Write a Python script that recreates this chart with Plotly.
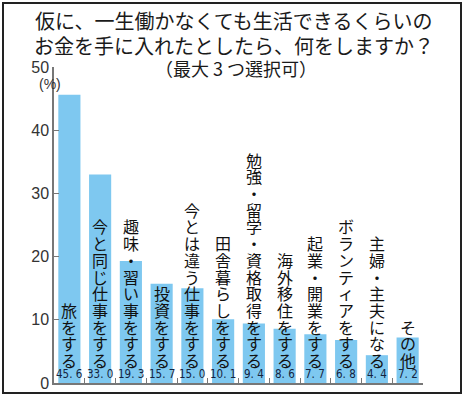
import plotly.graph_objects as go

CATEGORIES = [
    "旅をする",
    "今と同じ仕事をする",
    "趣味・習い事をする",
    "投資をする",
    "今とは違う仕事をする",
    "田舎暮らしをする",
    "勉強・留学・資格取得をする",
    "海外移住をする",
    "起業・開業をする",
    "ボランティアをする",
    "主婦・主夫になる",
    "その他",
]
VALUES = [45.6, 33.0, 19.3, 15.7, 15.0, 10.1, 9.4, 8.6, 7.7, 6.8, 4.4, 7.2]
Y_TICKS = [0, 10, 20, 30, 40, 50]

TITLE_LINES = [
    "仮に、一生働かなくても生活できるくらいの",
    "お金を手に入れたとしたら、何をしますか？",
]
SUBTITLE = "（最大 3 つ選択可）"

JP = "Noto Sans CJK JP"
BAR_COLOR = "#7ec8f0"
AXIS_COLOR = "#777777"

W, H = 467, 400
L, R, T, B = 54, 44, 67, 17
PW, PH = W - L - R, H - T - B


def px_y(y):
    # pixel row -> paper y
    return 1 + (T - y) / PH


def px_x(x):
    return (x - L) / PW


def main():
    fig = go.Figure(
        go.Bar(
            x=CATEGORIES,
            y=VALUES,
            width=0.72,
            marker_color=BAR_COLOR,
            marker_line_width=0,
            hoverinfo="skip",
        )
    )

    # vertical category labels: one char per annotation, stacked upward
    step = 16.7
    for cat in CATEGORIES:
        n = len(cat)
        for i, ch in enumerate(cat):
            fig.add_annotation(
                x=cat,
                y=0,
                text=ch,
                showarrow=False,
                yanchor="middle",
                yshift=23 + (n - 1 - i) * step,
                font=dict(family=JP, size=16, color="#111111"),
            )

    # values at the foot of each bar
    for cat, v in zip(CATEGORIES, VALUES):
        fig.add_annotation(
            x=cat,
            y=0,
            text=f"{v:.1f}".replace(".", ". "),
            showarrow=False,
            yanchor="bottom",
            yshift=0,
            font=dict(
                family="Liberation Sans Narrow, DejaVu Sans Condensed",
                size=11.5,
                color="#14243f",
            ),
        )

    fig.add_annotation(
        x=px_x(37),
        y=px_y(84),
        xref="paper",
        yref="paper",
        text="(%)",
        showarrow=False,
        yanchor="middle",
        font=dict(family="Liberation Sans", size=14, color="#333333"),
    )

    for line, ypx in zip(TITLE_LINES, [20, 45]):
        fig.add_annotation(
            x=px_x(W / 2),
            y=px_y(ypx),
            xref="paper",
            yref="paper",
            text=line,
            showarrow=False,
            yanchor="middle",
            font=dict(family=JP, size=20, color="#1a1a1a"),
        )
    fig.add_annotation(
        x=px_x(236),
        y=px_y(68),
        xref="paper",
        yref="paper",
        text=SUBTITLE,
        showarrow=False,
        yanchor="middle",
        font=dict(family=JP, size=18, color="#1a1a1a"),
    )

    fig.update_layout(
        width=W,
        height=H,
        margin=dict(l=L, r=R, t=T, b=B, pad=0, autoexpand=False),
        plot_bgcolor="white",
        paper_bgcolor="white",
        showlegend=False,
    )

    fig.update_xaxes(
        automargin=False,
        showticklabels=False,
        showgrid=False,
        showline=True,
        linecolor=AXIS_COLOR,
        linewidth=1.5,
        ticks="inside",
        tickson="boundaries",
        ticklen=5,
        tickcolor=AXIS_COLOR,
        range=[-0.5, len(CATEGORIES) - 0.5],
    )
    fig.update_yaxes(
        automargin=False,
        range=[0, 50],
        tickvals=Y_TICKS,
        showgrid=False,
        zeroline=False,
        showline=True,
        linecolor=AXIS_COLOR,
        linewidth=1.5,
        ticks="inside",
        ticklen=5,
        tickcolor=AXIS_COLOR,
        tickfont=dict(family="Liberation Sans", size=16, color="#333333"),
    )

    # frame around the whole picture
    fig.add_shape(
        type="rect",
        xref="paper",
        yref="paper",
        x0=px_x(3),
        x1=px_x(461),
        y0=px_y(393),
        y1=px_y(3),
        line=dict(color="#222222", width=2),
    )

    # drop the browser's default 8px body margin so the figure sits at 0,0
    fig.write_html(
        "out.html",
        config={"displayModeBar": False},
        post_script="document.body.style.margin = '0';",
    )


if __name__ == "__main__":
    main()
